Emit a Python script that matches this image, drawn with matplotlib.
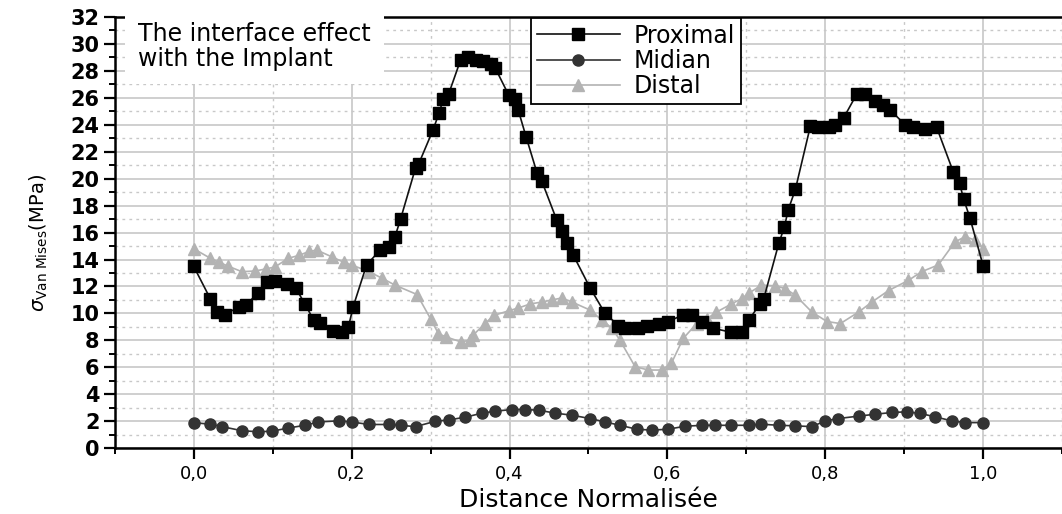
import matplotlib.pyplot as plt
from matplotlib.ticker import MultipleLocator, FuncFormatter

# Contraintes de Von Mises le long de l'interface os / implant
x_prox = [0.000, 0.021, 0.030, 0.040, 0.057, 0.066, 0.081, 0.093, 0.103, 0.118,
          0.129, 0.141, 0.152, 0.160, 0.177, 0.188, 0.196, 0.202, 0.219, 0.236,
          0.248, 0.255, 0.262, 0.281, 0.285, 0.303, 0.311, 0.316, 0.323, 0.338,
          0.348, 0.357, 0.367, 0.376, 0.382, 0.399, 0.407, 0.411, 0.421, 0.435,
          0.441, 0.460, 0.466, 0.473, 0.481, 0.502, 0.521, 0.538, 0.546, 0.563,
          0.574, 0.589, 0.601, 0.620, 0.631, 0.644, 0.658, 0.681, 0.694, 0.703,
          0.717, 0.722, 0.741, 0.748, 0.753, 0.762, 0.781, 0.791, 0.804, 0.812,
          0.823, 0.840, 0.850, 0.863, 0.873, 0.882, 0.901, 0.911, 0.926, 0.941,
          0.962, 0.970, 0.975, 0.983, 1.000]
proximal = [13.5, 11.1, 10.1, 9.9, 10.5, 10.6, 11.5, 12.3, 12.4, 12.2,
            11.9, 10.7, 9.5, 9.3, 8.7, 8.6, 9.0, 10.5, 13.6, 14.7,
            14.9, 15.7, 17.0, 20.8, 21.1, 23.6, 24.9, 25.9, 26.3, 28.8,
            29.0, 28.8, 28.7, 28.5, 28.2, 26.2, 25.9, 25.1, 23.1, 20.4,
            19.8, 16.9, 16.1, 15.2, 14.3, 11.9, 10.0, 9.1, 8.9, 8.9,
            9.05, 9.25, 9.4, 9.9, 9.9, 9.4, 8.9, 8.6, 8.6, 9.5,
            10.7, 11.1, 15.2, 16.4, 17.7, 19.2, 23.9, 23.8, 23.8, 24.0,
            24.5, 26.3, 26.3, 25.8, 25.5, 25.1, 24.0, 23.8, 23.7, 23.8,
            20.5, 19.65, 18.5, 17.1, 13.5]

x_mid = [0.000, 0.021, 0.036, 0.061, 0.082, 0.099, 0.120, 0.141, 0.158, 0.184,
         0.200, 0.222, 0.247, 0.262, 0.281, 0.306, 0.323, 0.344, 0.365, 0.382,
         0.403, 0.420, 0.437, 0.458, 0.479, 0.502, 0.521, 0.540, 0.561, 0.580,
         0.601, 0.622, 0.644, 0.660, 0.681, 0.703, 0.719, 0.741, 0.762, 0.783,
         0.800, 0.816, 0.842, 0.863, 0.884, 0.903, 0.920, 0.939, 0.960, 0.977,
         1.000]
midian = [1.9, 1.78, 1.6, 1.3, 1.22, 1.26, 1.5, 1.7, 1.95, 2.03,
          1.95, 1.76, 1.76, 1.7, 1.6, 2.0, 2.1, 2.3, 2.6, 2.75,
          2.87, 2.87, 2.82, 2.6, 2.45, 2.2, 1.95, 1.7, 1.41, 1.34,
          1.41, 1.63, 1.7, 1.7, 1.7, 1.7, 1.78, 1.7, 1.66, 1.6,
          2.03, 2.2, 2.38, 2.52, 2.65, 2.7, 2.58, 2.33, 2.03, 1.9,
          1.9]

x_dist = [0.000, 0.021, 0.032, 0.044, 0.061, 0.078, 0.091, 0.103, 0.120, 0.133,
          0.146, 0.156, 0.175, 0.190, 0.200, 0.222, 0.239, 0.255, 0.283, 0.300,
          0.310, 0.319, 0.338, 0.350, 0.354, 0.369, 0.380, 0.399, 0.411, 0.426,
          0.441, 0.454, 0.466, 0.479, 0.502, 0.517, 0.530, 0.540, 0.559, 0.576,
          0.593, 0.605, 0.620, 0.637, 0.650, 0.662, 0.681, 0.694, 0.703, 0.719,
          0.736, 0.749, 0.762, 0.783, 0.802, 0.819, 0.842, 0.859, 0.880, 0.905,
          0.922, 0.943, 0.964, 0.977, 0.989, 1.000]
distal = [14.8, 14.1, 13.8, 13.5, 13.1, 13.15, 13.3, 13.45, 14.1, 14.3,
          14.6, 14.7, 14.2, 13.8, 13.6, 13.1, 12.6, 12.1, 11.4, 9.6,
          8.5, 8.27, 7.9, 8.0, 8.4, 9.25, 9.85, 10.2, 10.4, 10.7,
          10.85, 11.0, 11.15, 10.85, 10.25, 9.5, 8.9, 8.0, 6.05, 5.8,
          5.8, 6.3, 8.15, 9.25, 9.6, 10.1, 10.7, 11.1, 11.5, 12.1,
          12.05, 11.85, 11.35, 10.1, 9.4, 9.25, 10.1, 10.85, 11.7, 12.45,
          13.1, 13.6, 15.3, 15.7, 15.45, 14.8]

fig = plt.figure(figsize=(10.62, 5.14), dpi=100)
ax = fig.add_axes([0.108, 0.128, 0.893, 0.839])

# Courbes
l_dist, = ax.plot(x_dist, distal, '-', color='#b3b3b3', lw=1.2, marker='^',
                  ms=9, mec='#b3b3b3', mfc='#b3b3b3', zorder=3)
l_mid, = ax.plot(x_mid, midian, '-', color='#333333', lw=1.2, marker='o',
                 ms=8, mec='#333333', mfc='#333333', zorder=4)
l_prox, = ax.plot(x_prox, proximal, '-', color='#111111', lw=1.2, marker='s',
                  ms=8, mec='black', mfc='black', zorder=5)

ax.set_xlim(-0.1, 1.101)
ax.set_ylim(0, 32)

ax.xaxis.set_major_locator(MultipleLocator(0.2))
ax.xaxis.set_minor_locator(MultipleLocator(0.1))
ax.yaxis.set_major_locator(MultipleLocator(2))
ax.yaxis.set_minor_locator(MultipleLocator(1))
ax.xaxis.set_major_formatter(FuncFormatter(lambda v, p: f'{v:.1f}'.replace('.', ',')))

# Grille : traits pleins (majeurs) et pointillés (mineurs)
ax.grid(which='major', color='#cfcfcf', lw=1.4, ls='-')
ax.grid(which='minor', color='#c8c8c8', lw=1.0, ls=(0, (2, 3)))
ax.set_axisbelow(True)

for s in ax.spines.values():
    s.set_linewidth(1.8)

ax.tick_params(axis='both', which='major', direction='out', length=8, width=1.6)
ax.tick_params(axis='both', which='minor', direction='out', length=4.5, width=1.4)
ax.tick_params(axis='y', labelsize=15, pad=3)
ax.tick_params(axis='x', labelsize=13, pad=4)
for lab in ax.get_yticklabels():
    lab.set_fontweight('bold')

ax.set_xlabel('Distance Normalisée', fontsize=18, labelpad=4)
ax.set_ylabel(r'$\sigma_{\mathrm{Van\ Mises}}$(MPa)', fontsize=14)
ax.yaxis.set_label_coords(-0.068, 0.476)

ax.text(0.025, 0.988, 'The interface effect\nwith the Implant', transform=ax.transAxes,
        fontsize=17, ha='left', va='top', linespacing=1.05, zorder=6,
        bbox=dict(facecolor='white', edgecolor='none', boxstyle='square,pad=0.55'))

leg = ax.legend([l_prox, l_mid, l_dist], ['Proximal', 'Midian', 'Distal'],
                loc='upper left', bbox_to_anchor=(0.439, 0.998), borderaxespad=0,
                fontsize=17, frameon=True, fancybox=False, framealpha=1,
                edgecolor='black', handlelength=3.5, handletextpad=0.6,
                labelspacing=0.05, borderpad=0.25)
leg.get_frame().set_linewidth(1.3)
leg.set_zorder(7)

plt.savefig('out.png', dpi=100)
